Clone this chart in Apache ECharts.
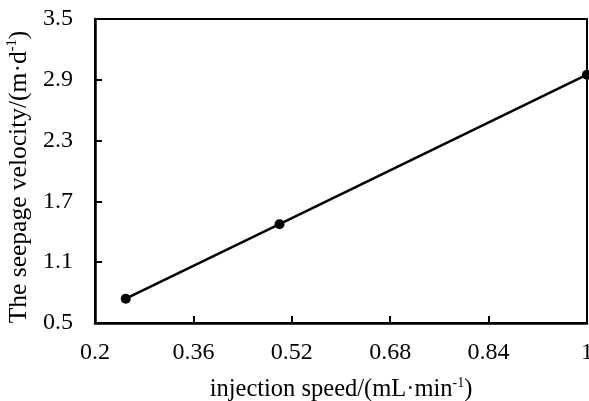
<!DOCTYPE html>
<html>
<head>
<meta charset="utf-8">
<script src="https://cdn.jsdelivr.net/npm/echarts@6/dist/echarts.min.js"></script>
<style>html,body{margin:0;padding:0;background:#fff;}#c{width:589px;height:401px;}</style>
</head>
<body>
<div id="c"></div>
<script>
const injectionSpeed = [0.25, 0.5, 1.0];
const seepageVelocity = [0.74, 1.475, 2.95];
const xTicks = [0.2, 0.36, 0.52, 0.68, 0.84, 1];
const yTicks = [0.5, 1.1, 1.7, 2.3, 2.9, 3.5];

const font = '"Liberation Serif", "Times New Roman", serif';
const chart = echarts.init(document.getElementById('c'), null, {renderer: 'canvas'});
const fmt = v => String(parseFloat(Number(v).toFixed(2)));
chart.setOption({
  animation: false,
  backgroundColor: '#fff',
  grid: {left: 95, right: 2, top: 19, bottom: 78, show: true, borderColor: '#000', borderWidth: 2, outerBoundsMode: 'none', containLabel: false},
  xAxis: {
    type: 'value',
    min: xTicks[0], max: xTicks[xTicks.length - 1], interval: 0.16,
    name: '{n|injection speed/(mL·min}{s|-1}{n|)}',
    nameLocation: 'middle', nameGap: 53,
    nameTextStyle: {
      rich: {
        n: {fontFamily: font, fontSize: 24.5, color: '#000', lineHeight: 26, verticalAlign: 'bottom'},
        s: {fontFamily: font, fontSize: 14, color: '#000', lineHeight: 26, verticalAlign: 'top'}
      }
    },
    axisLine: {show: true, lineStyle: {color: '#000', width: 2.5}},
    axisTick: {show: true, inside: true, length: 7, lineStyle: {color: '#000', width: 2}},
    axisLabel: {fontFamily: font, fontSize: 24, color: '#000', margin: 18, formatter: fmt, showMaxLabel: true, showMinLabel: true},
    splitLine: {show: false}
  },
  yAxis: {
    type: 'value',
    min: yTicks[0], max: yTicks[yTicks.length - 1], interval: 0.6,
    name: '{n|The seepage velocity/(m·d}{s|-1}{n|)}',
    nameLocation: 'middle', nameGap: 60, nameRotate: 90,
    nameTextStyle: {
      padding: [0, 12, 0, 0],
      rich: {
        n: {fontFamily: font, fontSize: 25.5, color: '#000', lineHeight: 27, verticalAlign: 'bottom'},
        s: {fontFamily: font, fontSize: 14.5, color: '#000', lineHeight: 27, verticalAlign: 'top'}
      }
    },
    axisLine: {show: true, lineStyle: {color: '#000', width: 2.5}},
    axisTick: {show: true, inside: true, length: 7, lineStyle: {color: '#000', width: 2}},
    axisLabel: {fontFamily: font, fontSize: 24, color: '#000', margin: 22, formatter: fmt},
    splitLine: {show: false}
  },
  series: [{
    type: 'line',
    data: injectionSpeed.map((x, i) => [x, seepageVelocity[i]]),
    symbol: 'circle', symbolSize: 10,
    itemStyle: {color: '#000'},
    lineStyle: {color: '#000', width: 2.5},
    clip: false
  }]
});
</script>
</body>
</html>
